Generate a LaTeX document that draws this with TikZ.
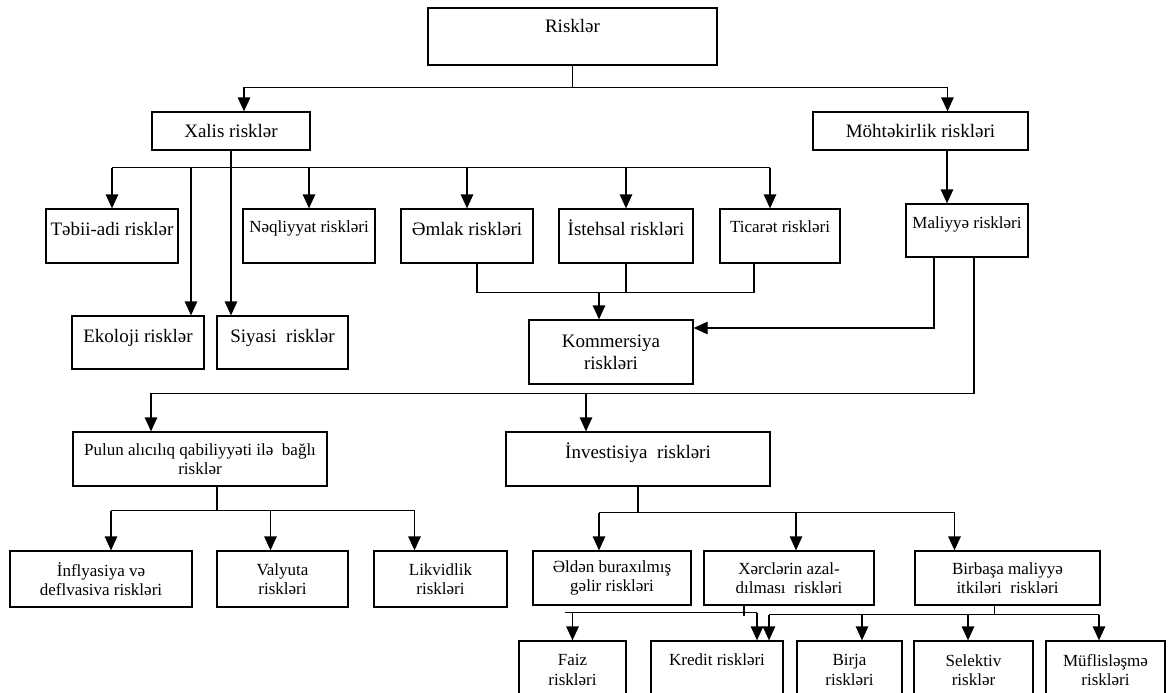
\documentclass[tikz,border=0pt]{standalone}
\usepackage{fontspec}
\setmainfont{Liberation Serif}
\usetikzlibrary{arrows.meta}

\newcommand\bigfnt{\fontsize{19}{22}\selectfont}
\newcommand\smallfnt{\fontsize{17}{19.5}\selectfont}

\tikzset{
  box/.style={draw, align=center, inner sep=1pt, font=\bigfnt},
  smalltext/.style={font=\smallfnt},
  sz/.style 2 args={minimum width=#1pt, minimum height=#2pt},
  lifted/.style={text height=13pt, text depth=#1pt},
  arr/.style={-{Triangle[width=12.5pt,length=14pt]}},
}

\begin{document}
\begin{tikzpicture}[x=1pt, y=-1pt, line width=1.25pt]
		\useasboundingbox (0,0) rectangle (1170,693);
		\fill[white] (0,0) rectangle (1170,693);
		% boxes
		\node[box, sz={289}{57}, lifted=20] (risk) at (572.5,36.5) {Risklər};
		\node[box, sz={158}{38}] (xalis) at (231,131) {Xalis risklər};
		\node[box, sz={215}{38}] (moht) at (920.5,131) {Möhtəkirlik riskləri};
		\node[box, sz={132}{54}, lifted=15] (tebii) at (112,236) {Təbii-adi risklər};
		\node[box, smalltext, sz={132}{54}, lifted=21] (neql) at (309,236) {Nəqliyyat riskləri};
		\node[box, sz={132}{54}, lifted=15] (emlak) at (467,236) {Əmlak riskləri};
		\node[box, sz={134}{54}, lifted=15] (istehsal) at (626,236) {İstehsal riskləri};
		\node[box, smalltext, sz={120}{54}, lifted=21] (ticaret) at (780,236) {Ticarət riskləri};
		\node[box, smalltext, sz={122}{53}, lifted=18] (maliyye) at (967,230.5) {Maliyyə riskləri};
		\node[box, sz={132}{53}, lifted=14] (ekoloji) at (138,342.5) {Ekoloji risklər};
		\node[box, sz={131}{53}, lifted=14] (siyasi) at (282.5,342.5) {Siyasi\ \ risklər};
		\node[box, sz={164}{64}] (kommer) at (611,352) {Kommersiya\\riskləri};
		\node[box, smalltext, sz={254}{54}] (pulun) at (200,459) {Pulun alıcılıq qabiliyyəti ilə\ \ bağlı\\risklər};
		\node[box, sz={264}{54}, lifted=15] (invest) at (638,459) {İnvestisiya\ \ riskləri};
		\node[box, smalltext, sz={182}{56}] (infl) at (101,579) {İnflyasiya və\\deflvasiva riskləri};
		\node[box, smalltext, sz={131}{56}] (valyuta) at (282.5,579) {Valyuta\\riskləri};
		\node[box, smalltext, sz={133}{56}] (likvid) at (440.5,579) {Likvidlik\\riskləri};
		\node[box, smalltext, sz={158}{54}] (elden) at (612,578) {Əldən buraxılmış\\gəlir riskləri};
		\node[box, smalltext, sz={170}{54}] (xerc) at (789,578) {Xərclərin azal-\\dılması\ \ riskləri};
		\node[box, smalltext, sz={185}{54}] (birbasa) at (1007.5,578) {Birbaşa maliyyə\\itkiləri\ \ riskləri};
		\node[box, smalltext, sz={107}{58}] (faiz) at (572.5,670) {Faiz\\riskləri};
		\node[box, smalltext, sz={132}{58}, lifted=23] (kredit) at (717,670) {Kredit riskləri};
		\node[box, smalltext, sz={105}{58}] (birja) at (849.5,670) {Birja\\riskləri};
		\node[box, smalltext, sz={119}{58}] (selektiv) at (973.5,670) {Selektiv\\risklər};
		\node[box, smalltext, sz={119}{58}] (muflis) at (1105.5,670) {Müflisləşmə\\riskləri};

		% Risklər
		\draw (risk.south) -- ++(0,22) coordinate (r1);
		\coordinate (tX) at ([xshift=13pt]xalis.north);
		\coordinate (tM) at ([xshift=27pt]moht.north);
		\draw[arr] (r1) -| (tX);
		\draw[arr] (r1) -| (tM);

		% Xalis risklər
		\coordinate (x1) at ([yshift=-17pt]xalis.south);
		\coordinate (tE) at ([xshift=53pt]ekoloji.north);
		\coordinate (tT) at ([xshift=-10pt]ticaret.north);
		\draw[arr] (xalis.south) -- (xalis.south |- siyasi.north);
		\draw (tebii.north |- x1) -- (tT |- x1);
		\foreach \n in {tebii, neql, emlak, istehsal}
			\draw[arr] (\n.north |- x1) -- (\n.north);
		\draw[arr] (tE |- x1) -- (tE);
		\draw[arr] (tT |- x1) -- (tT);

		% Möhtəkirlik riskləri
		\coordinate (tMal) at ([xshift=-20pt]maliyye.north);
		\draw[arr] (tMal |- moht.south) -- (tMal);

		% Kommersiya riskləri
		\coordinate (k1) at ([yshift=-29pt]istehsal.south);
		\coordinate (sE) at ([xshift=10pt]emlak.south);
		\coordinate (sT) at ([xshift=-26pt]ticaret.south);
		\coordinate (tK) at ([xshift=-12pt]kommer.north);
		\draw (sE) -- (sE |- k1) -- (sT |- k1) -- (sT);
		\draw (istehsal.south) -- (k1);
		\draw[arr] (tK |- k1) -- (tK);
		\draw[arr] ([xshift=-33pt]maliyye.south) |- ([yshift=24pt]kommer.east);

		% Maliyyə riskləri
		\coordinate (j4) at ([yshift=-9pt]kommer.south);
		\coordinate (tP) at ([xshift=-49pt]pulun.north);
		\coordinate (tI) at ([xshift=-52pt]invest.north);
		\draw[arr] ([xshift=7pt]maliyye.south) |- (j4) -| (tP);
		\draw[arr] (tI |- j4) -- (tI);

		% Pulun alıcılıq qabiliyyəti
		\coordinate (p1) at ([xshift=17pt, yshift=-24pt]pulun.south);
		\coordinate (tIn) at ([xshift=10pt]infl.north);
		\coordinate (tV) at ([xshift=-12pt]valyuta.north);
		\coordinate (tL) at ([xshift=-26pt]likvid.north);
		\draw (p1 |- pulun.south) -- (p1);
		\draw (tIn |- p1) -- (tL |- p1);
		\foreach \c in {tIn, tV, tL}
			\draw[arr] (\c |- p1) -- (\c);

		% İnvestisiya riskləri
		\coordinate (i1) at ([yshift=-26pt]invest.south);
		\coordinate (tEl) at ([xshift=-13pt]elden.north);
		\coordinate (tX2) at ([xshift=7pt]xerc.north);
		\coordinate (tB) at ([xshift=-53pt]birbasa.north);
		\draw (invest.south) -- (i1);
		\draw (tEl |- i1) -- (tB |- i1);
		\foreach \c in {tEl, tX2, tB}
			\draw[arr] (\c |- i1) -- (\c);

		% Xərclərin azaldılması
		\coordinate (xa) at ([xshift=-45pt]xerc.south);
		\coordinate (xb) at ([yshift=-7pt]xa);
		\coordinate (tF) at (faiz.north);
		\coordinate (tK1) at ([xshift=40pt]kredit.north);
		\draw (xa) -- ([yshift=-10pt]xa);
		\draw (tF |- xb) ++(-8,0) -- (tK1 |- xb);
		\draw[arr] (tF |- xb) -- (tF);
		\draw[arr] (tK1 |- xb) -- (tK1);

		% Birbaşa maliyyə itkiləri
		\coordinate (bb) at ([xshift=-13pt, yshift=-9pt]birbasa.south);
		\coordinate (tK2) at ([xshift=52pt]kredit.north);
		\coordinate (tBi) at ([xshift=12.5pt]birja.north);
		\coordinate (tS) at ([xshift=-5.5pt]selektiv.north);
		\coordinate (tMu) at ([xshift=-6.5pt]muflis.north);
		\draw (bb |- birbasa.south) -- (bb);
		\draw (tK2 |- bb) -- (tMu |- bb);
		\foreach \c in {tK2, tBi, tS, tMu}
			\draw[arr] (\c |- bb) -- (\c);
	\end{tikzpicture}
\end{document}
